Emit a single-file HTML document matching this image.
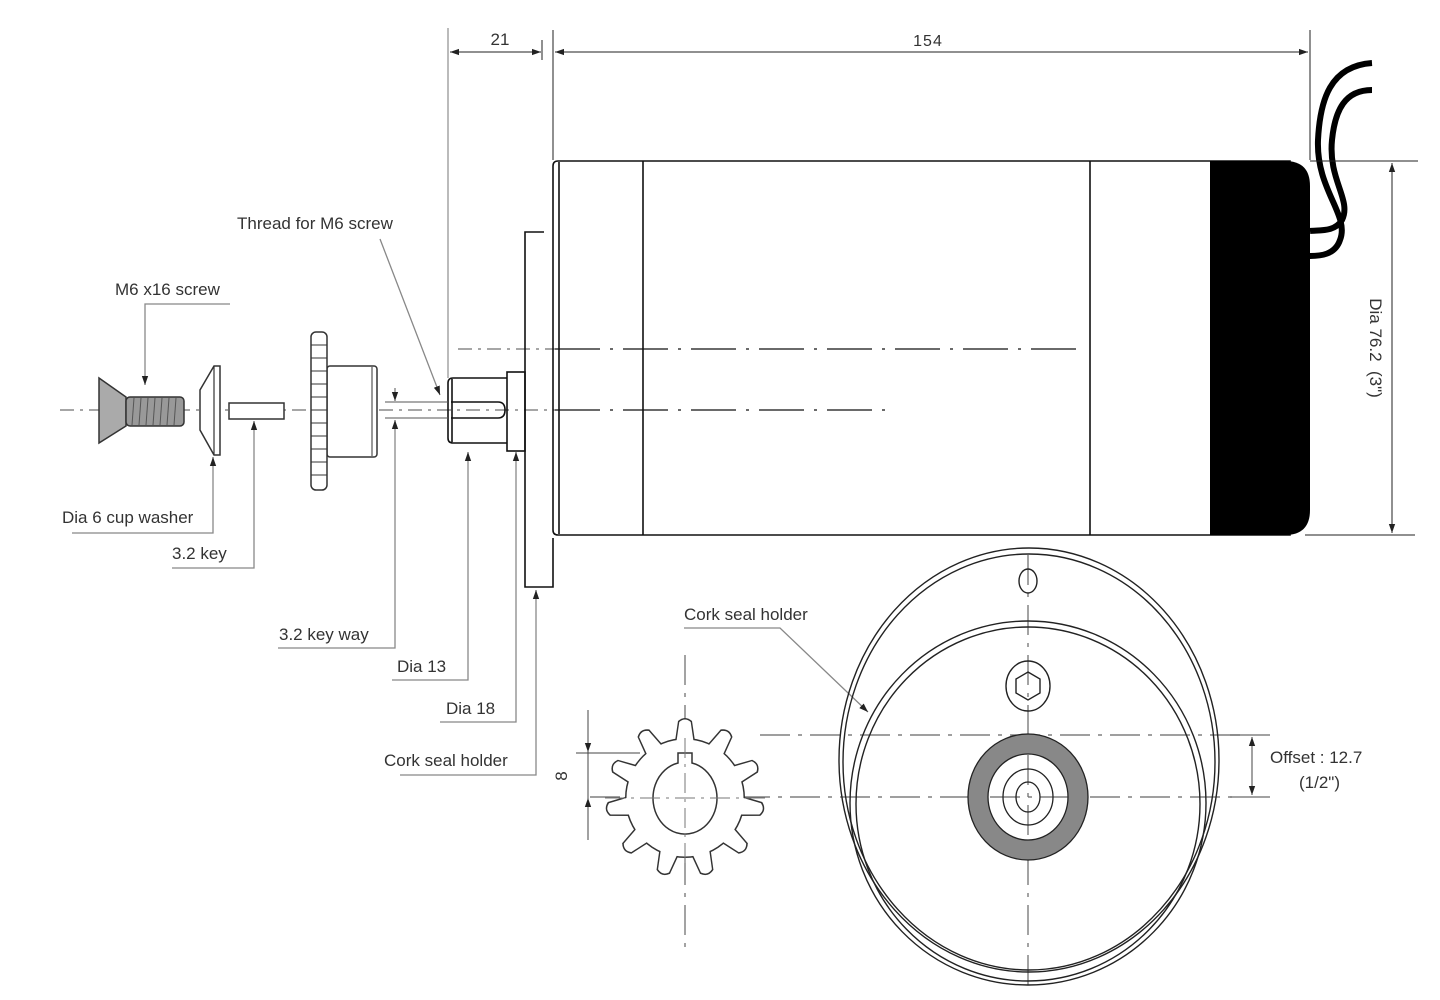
<!DOCTYPE html>
<html><head><meta charset="utf-8"><style>
html,body{margin:0;padding:0;background:#fff;}
svg{display:block;}
text{font-family:"Liberation Sans",sans-serif;fill:#333;}
</style></head><body>
<svg width="1440" height="1000" viewBox="0 0 1440 1000" xmlns="http://www.w3.org/2000/svg">
<defs>
<marker id="a" viewBox="0 0 10 10" refX="10" refY="5" markerWidth="9" markerHeight="9" orient="auto-start-reverse" markerUnits="userSpaceOnUse"><path d="M0,1.5 L10,5 L0,8.5 Z" fill="#222"/></marker>
</defs>

<g stroke="#888" stroke-width="1.5" fill="none" stroke-dasharray="14,6,3,6">
<line x1="60" y1="410" x2="555" y2="410"/>
<line x1="458" y1="349" x2="555" y2="349"/>
</g>
<g stroke="#111" stroke-width="1.2" fill="none" stroke-dasharray="45,10,3,10">
<line x1="555" y1="349" x2="1077" y2="349"/>
<line x1="555" y1="410" x2="886" y2="410"/>
</g>

<g stroke="#111" stroke-width="1.6" fill="none">
<path d="M558,161 L1290,161 L1290,535 L558,535 Q553,535 553,530 L553,166 Q553,161 558,161 Z" fill="none"/>
<line x1="559" y1="162" x2="559" y2="534"/>
<line x1="643" y1="161" x2="643" y2="535"/>
<line x1="1090" y1="161" x2="1090" y2="535"/>
</g>
<path d="M1210,161 L1285,161 Q1310,161 1310,186 L1310,510 Q1310,535 1285,535 L1210,535 Z" fill="#000"/>
<g stroke="#000" stroke-width="6" fill="none" stroke-linecap="butt">
<path d="M1372,63 C1330,66 1320,100 1318,140 C1316,190 1350,215 1340,240 C1335,255 1320,256 1310,256"/>
<path d="M1372,90 C1345,90 1335,110 1332,140 C1328,180 1352,200 1342,220 C1335,232 1320,230 1310,231"/>
</g>

<g stroke="#111" stroke-width="1.6" fill="none">
<path d="M544,232 L525,232 L525,587 L553,587 L553,538"/>
<rect x="507" y="372" width="18" height="79"/>
<path d="M507,378 L453,378 Q448,378 448,383 L448,438 Q448,443 453,443 L507,443"/>
<line x1="452" y1="379" x2="452" y2="442"/>
<path d="M451,402 L498,402 Q505,402 505,410 Q505,418 498,418 L451,418"/>
</g>

<g stroke="#222" stroke-width="1" fill="none">
<line x1="448" y1="28" x2="448" y2="378" stroke="#777"/>
<line x1="553" y1="30" x2="553" y2="160"/>
<line x1="542" y1="40" x2="542" y2="60"/>
<line x1="450" y1="52" x2="541" y2="52" marker-start="url(#a)" marker-end="url(#a)"/>
<line x1="555" y1="52" x2="1308" y2="52" marker-start="url(#a)" marker-end="url(#a)"/>
<line x1="1310" y1="30" x2="1310" y2="160"/>
<line x1="1310" y1="161" x2="1418" y2="161"/>
<line x1="1305" y1="535" x2="1415" y2="535"/>
<line x1="1392" y1="163" x2="1392" y2="533" marker-start="url(#a)" marker-end="url(#a)"/>
</g>
<text x="500" y="45" font-size="17" text-anchor="middle">21</text>
<text x="928" y="46" font-size="16" text-anchor="middle" letter-spacing="1">154</text>
<text font-size="17" transform="translate(1370,348) rotate(90)" text-anchor="middle" xml:space="preserve">Dia 76.2  (3")</text>

<g stroke="#333" stroke-width="1.5">
<path d="M99,378 L126,397 L126,426 L99,443 Z" fill="#aaa"/>
<rect x="126" y="397" width="58" height="29" rx="4" fill="#999"/>
</g>
<g stroke="#555" stroke-width="1">
<line x1="134" y1="398" x2="132" y2="425"/><line x1="141" y1="398" x2="139" y2="425"/><line x1="148" y1="398" x2="146" y2="425"/><line x1="155" y1="398" x2="153" y2="425"/><line x1="162" y1="398" x2="160" y2="425"/><line x1="169" y1="398" x2="167" y2="425"/><line x1="176" y1="398" x2="174" y2="425"/>
</g>
<path d="M214,366 L220,366 L220,455 L214,455 L200,430 L200,390 Z" fill="#fff" stroke="#333" stroke-width="1.5"/>
<line x1="214" y1="366" x2="214" y2="455" stroke="#333" stroke-width="1.2"/>
<rect x="229" y="403" width="55" height="16" fill="#fff" stroke="#333" stroke-width="1.5"/>
<g stroke="#333" stroke-width="1.5" fill="#fff">
<rect x="327" y="366" width="50" height="91" rx="3"/>
<rect x="311" y="332" width="16" height="158" rx="5"/>
</g>
<g stroke="#333" stroke-width="1">
<line x1="311" y1="345" x2="327" y2="345"/><line x1="311" y1="358" x2="327" y2="358"/><line x1="311" y1="371" x2="327" y2="371"/><line x1="311" y1="384" x2="327" y2="384"/><line x1="311" y1="397" x2="327" y2="397"/><line x1="311" y1="410" x2="327" y2="410"/><line x1="311" y1="423" x2="327" y2="423"/><line x1="311" y1="436" x2="327" y2="436"/><line x1="311" y1="449" x2="327" y2="449"/><line x1="311" y1="462" x2="327" y2="462"/><line x1="311" y1="475" x2="327" y2="475"/>
<line x1="372" y1="367" x2="372" y2="456"/>
</g>
<g stroke="#555" stroke-width="1" fill="none">
<line x1="385" y1="402" x2="448" y2="402"/>
<line x1="385" y1="418" x2="448" y2="418"/>
<line x1="395" y1="388" x2="395" y2="401" marker-end="url(#a)"/>
</g>

<g stroke="#888" stroke-width="1.3" fill="none">
<path d="M230,304 L145,304 L145,385" marker-end="url(#a)"/>
<path d="M380,239 L440,395" marker-end="url(#a)"/>
<path d="M72,533 L213,533 L213,457" marker-end="url(#a)"/>
<path d="M172,568 L254,568 L254,421" marker-end="url(#a)"/>
<path d="M278,648 L395,648 L395,420" marker-end="url(#a)"/>
<path d="M392,680 L468,680 L468,452" marker-end="url(#a)"/>
<path d="M440,722 L516,722 L516,452" marker-end="url(#a)"/>
<path d="M400,775 L536,775 L536,590" marker-end="url(#a)"/>
<path d="M684,628 L780,628 L868,712" marker-end="url(#a)"/>
</g>
<g font-size="17">
<text x="237" y="229">Thread for M6 screw</text>
<text x="115" y="295">M6 x16 screw</text>
<text x="62" y="523">Dia 6 cup washer</text>
<text x="172" y="559">3.2 key</text>
<text x="279" y="640">3.2 key way</text>
<text x="397" y="672">Dia 13</text>
<text x="446" y="714">Dia 18</text>
<text x="384" y="766">Cork seal holder</text>
<text x="684" y="620">Cork seal holder</text>
<text x="1270" y="763">Offset : 12.7</text>
<text x="1299" y="788">(1/2")</text>
<text transform="translate(567,776) rotate(-90)" text-anchor="middle">8</text>
</g>

<g stroke="#666" stroke-width="1.2" fill="none" stroke-dasharray="30,8,4,8">
<line x1="760" y1="735" x2="1240" y2="735"/>
<line x1="590" y1="797" x2="1240" y2="797"/>
<line x1="1028" y1="555" x2="1028" y2="990"/>
<line x1="685" y1="655" x2="685" y2="950"/>
</g>

<g stroke="#222" stroke-width="1.4" fill="none">
<ellipse cx="1029" cy="760" rx="190" ry="212"/>
<ellipse cx="1029" cy="762" rx="186" ry="208"/>
<ellipse cx="1028" cy="803" rx="178" ry="182"/>
<ellipse cx="1028" cy="804" rx="172" ry="177"/>
<ellipse cx="1028" cy="581" rx="9" ry="12"/>
<ellipse cx="1028" cy="686" rx="22" ry="25"/>
<path d="M1028,672 L1040,679 L1040,693 L1028,700 L1016,693 L1016,679 Z"/>
</g>
<ellipse cx="1028" cy="797" rx="50" ry="53" fill="none" stroke="#888" stroke-width="20"/>
<g stroke="#222" stroke-width="1.3" fill="none">
<ellipse cx="1028" cy="797" rx="60" ry="63"/>
<ellipse cx="1028" cy="797" rx="40" ry="43"/>
<ellipse cx="1028" cy="797" rx="25" ry="28"/>
<ellipse cx="1028" cy="797" rx="12" ry="15"/>
</g>

<g stroke="#444" stroke-width="1" fill="none">
<line x1="1252" y1="737" x2="1252" y2="795" marker-start="url(#a)" marker-end="url(#a)"/>
<line x1="1230" y1="735" x2="1270" y2="735"/>
<line x1="1230" y1="797" x2="1270" y2="797"/>
</g>
<g stroke="#444" stroke-width="1" fill="none">
<line x1="588" y1="710" x2="588" y2="752" marker-end="url(#a)"/>
<line x1="588" y1="840" x2="588" y2="798" marker-end="url(#a)"/>
<line x1="588" y1="752" x2="588" y2="798"/>
<line x1="576" y1="753" x2="640" y2="753"/>
</g>

<g transform="translate(685,798)">
<g fill="#333">
<circle r="60"/>
<g id="tb"><path d="M-11,-50 L-7,-77 Q0,-83 7,-77 L11,-50 Z"/></g>
<use href="#tb" transform="rotate(32.7)"/><use href="#tb" transform="rotate(65.5)"/><use href="#tb" transform="rotate(98.2)"/><use href="#tb" transform="rotate(130.9)"/><use href="#tb" transform="rotate(163.6)"/><use href="#tb" transform="rotate(196.4)"/><use href="#tb" transform="rotate(229.1)"/><use href="#tb" transform="rotate(261.8)"/><use href="#tb" transform="rotate(294.5)"/><use href="#tb" transform="rotate(327.3)"/>
</g>
<g fill="#fff">
<circle r="58.5"/>
<g id="tw"><path d="M-9.5,-50 L-5.7,-76 Q0,-81 5.7,-76 L9.5,-50 Z"/></g>
<use href="#tw" transform="rotate(32.7)"/><use href="#tw" transform="rotate(65.5)"/><use href="#tw" transform="rotate(98.2)"/><use href="#tw" transform="rotate(130.9)"/><use href="#tw" transform="rotate(163.6)"/><use href="#tw" transform="rotate(196.4)"/><use href="#tw" transform="rotate(229.1)"/><use href="#tw" transform="rotate(261.8)"/><use href="#tw" transform="rotate(294.5)"/><use href="#tw" transform="rotate(327.3)"/>
</g>
<path d="M-7,-35 L-7,-45 L7,-45 L7,-35 A32,36 0 1 1 -7,-35 Z" fill="#fff" stroke="#333" stroke-width="1.5"/>
<line x1="0" y1="-60" x2="0" y2="70" stroke="#777" stroke-width="1" stroke-dasharray="20,6,3,6"/>
<line x1="-80" y1="0" x2="80" y2="0" stroke="#777" stroke-width="1" stroke-dasharray="20,6,3,6"/>
</g>
</svg>
</body></html>
